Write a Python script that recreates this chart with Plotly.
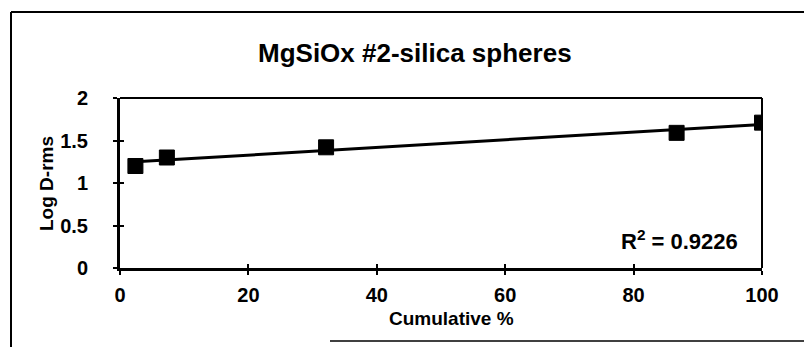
import numpy as np
import plotly.graph_objects as go

# Measured data: cumulative percentage vs. log of rms diameter
cumulative_pct = [2.4, 7.3, 32.1, 86.7, 100.0]
log_d_rms = [1.20, 1.30, 1.42, 1.59, 1.71]

x_ticks = [0, 20, 40, 60, 80, 100]
y_ticks = [0, 0.5, 1, 1.5, 2]
y_tick_text = ["0", "0.5", "1", "1.5", "2"]

title_text = "MgSiOx #2-silica spheres"
x_title = "Cumulative %"
y_title = "Log D-rms"
r2_text = "R<sup>2</sup> = 0.9226"

# Linear trendline fitted to the measurements
slope, intercept = np.polyfit(cumulative_pct, log_d_rms, 1)
fit_x = [min(cumulative_pct), max(cumulative_pct)]
fit_y = [slope * v + intercept for v in fit_x]

W, H = 804, 347
L, R, T, B = 120, 762, 98, 268  # plot area in pixels


def px(xp):
    return (xp - L) / (R - L)


def py(yp):
    return (B - yp) / (B - T)


FONT = "Liberation Sans, Arial, sans-serif"

fig = go.Figure()
fig.add_trace(go.Scatter(
    x=fit_x, y=fit_y, mode="lines",
    line=dict(color="black", width=3),
    hoverinfo="skip", showlegend=False,
))
fig.add_trace(go.Scatter(
    x=cumulative_pct, y=log_d_rms, mode="markers",
    marker=dict(symbol="square", size=15, color="black",
                line=dict(color="black", width=1)),
    showlegend=False,
))
# invisible trace to activate the inner-tick overlay axes
fig.add_trace(go.Scatter(x=[0], y=[0], xaxis="x2", yaxis="y2",
                         mode="markers", marker=dict(opacity=0),
                         hoverinfo="skip", showlegend=False))

tickfont = dict(family=FONT, size=20, color="black", weight="bold")

fig.update_layout(
    width=W, height=H,
    margin=dict(l=L, r=W - R, t=T, b=H - B),
    paper_bgcolor="white", plot_bgcolor="white",
    xaxis=dict(range=[0, 100], tickvals=x_ticks, ticks="outside",
               ticklen=4, tickwidth=2, tickcolor="black",
               showline=True, linewidth=3, linecolor="black",
               showgrid=False, zeroline=False, tickfont=tickfont,
               ticklabelstandoff=3),
    yaxis=dict(range=[0, 2], tickvals=y_ticks, ticktext=y_tick_text,
               ticks="outside", ticklen=4, tickwidth=2, tickcolor="black",
               showline=True, linewidth=3, linecolor="black",
               showgrid=False, zeroline=False, tickfont=tickfont,
               ticklabelstandoff=21),
    xaxis2=dict(range=[0, 100], tickvals=x_ticks, ticks="inside",
                ticklen=4, tickwidth=2, tickcolor="black",
                overlaying="x", side="bottom", showticklabels=False,
                showline=False, showgrid=False, zeroline=False),
    yaxis2=dict(range=[0, 2], tickvals=y_ticks, ticks="inside",
                ticklen=4, tickwidth=2, tickcolor="black",
                overlaying="y", side="left", showticklabels=False,
                showline=False, showgrid=False, zeroline=False),
    shapes=[
        # top and right edges of the plot area
        dict(type="line", xref="paper", yref="paper", x0=0, y0=1, x1=1, y1=1,
             line=dict(color="black", width=2)),
        dict(type="line", xref="paper", yref="paper", x0=1, y0=0, x1=1, y1=1,
             line=dict(color="black", width=2)),
        # outer chart frame
        dict(type="line", xref="paper", yref="paper",
             x0=px(11), y0=py(12), x1=px(804), y1=py(12),
             line=dict(color="black", width=2)),
        dict(type="line", xref="paper", yref="paper",
             x0=px(11), y0=py(12), x1=px(11), y1=py(347),
             line=dict(color="black", width=2)),
        dict(type="line", xref="paper", yref="paper",
             x0=px(330), y0=py(341), x1=px(804), y1=py(341),
             line=dict(color="black", width=1.5)),
    ],
    annotations=[
        dict(text="<b>" + title_text + "</b>", xref="paper", yref="paper",
             x=px(415), y=py(53), xanchor="center", yanchor="middle",
             showarrow=False,
             font=dict(family=FONT, size=26, color="black")),
        dict(text="<b>" + x_title + "</b>", xref="paper", yref="paper",
             x=px(451), y=py(318), xanchor="center", yanchor="middle",
             showarrow=False,
             font=dict(family=FONT, size=19, color="black")),
        dict(text="<b>" + y_title + "</b>", xref="paper", yref="paper",
             x=px(46), y=py(184), xanchor="center", yanchor="middle",
             showarrow=False, textangle=-90,
             font=dict(family=FONT, size=19, color="black")),
        dict(text="<b>" + r2_text + "</b>", xref="paper", yref="paper",
             x=px(679), y=py(240), xanchor="center", yanchor="middle",
             showarrow=False,
             font=dict(family=FONT, size=22, color="black")),
    ],
)

fig.write_html("out.html")
